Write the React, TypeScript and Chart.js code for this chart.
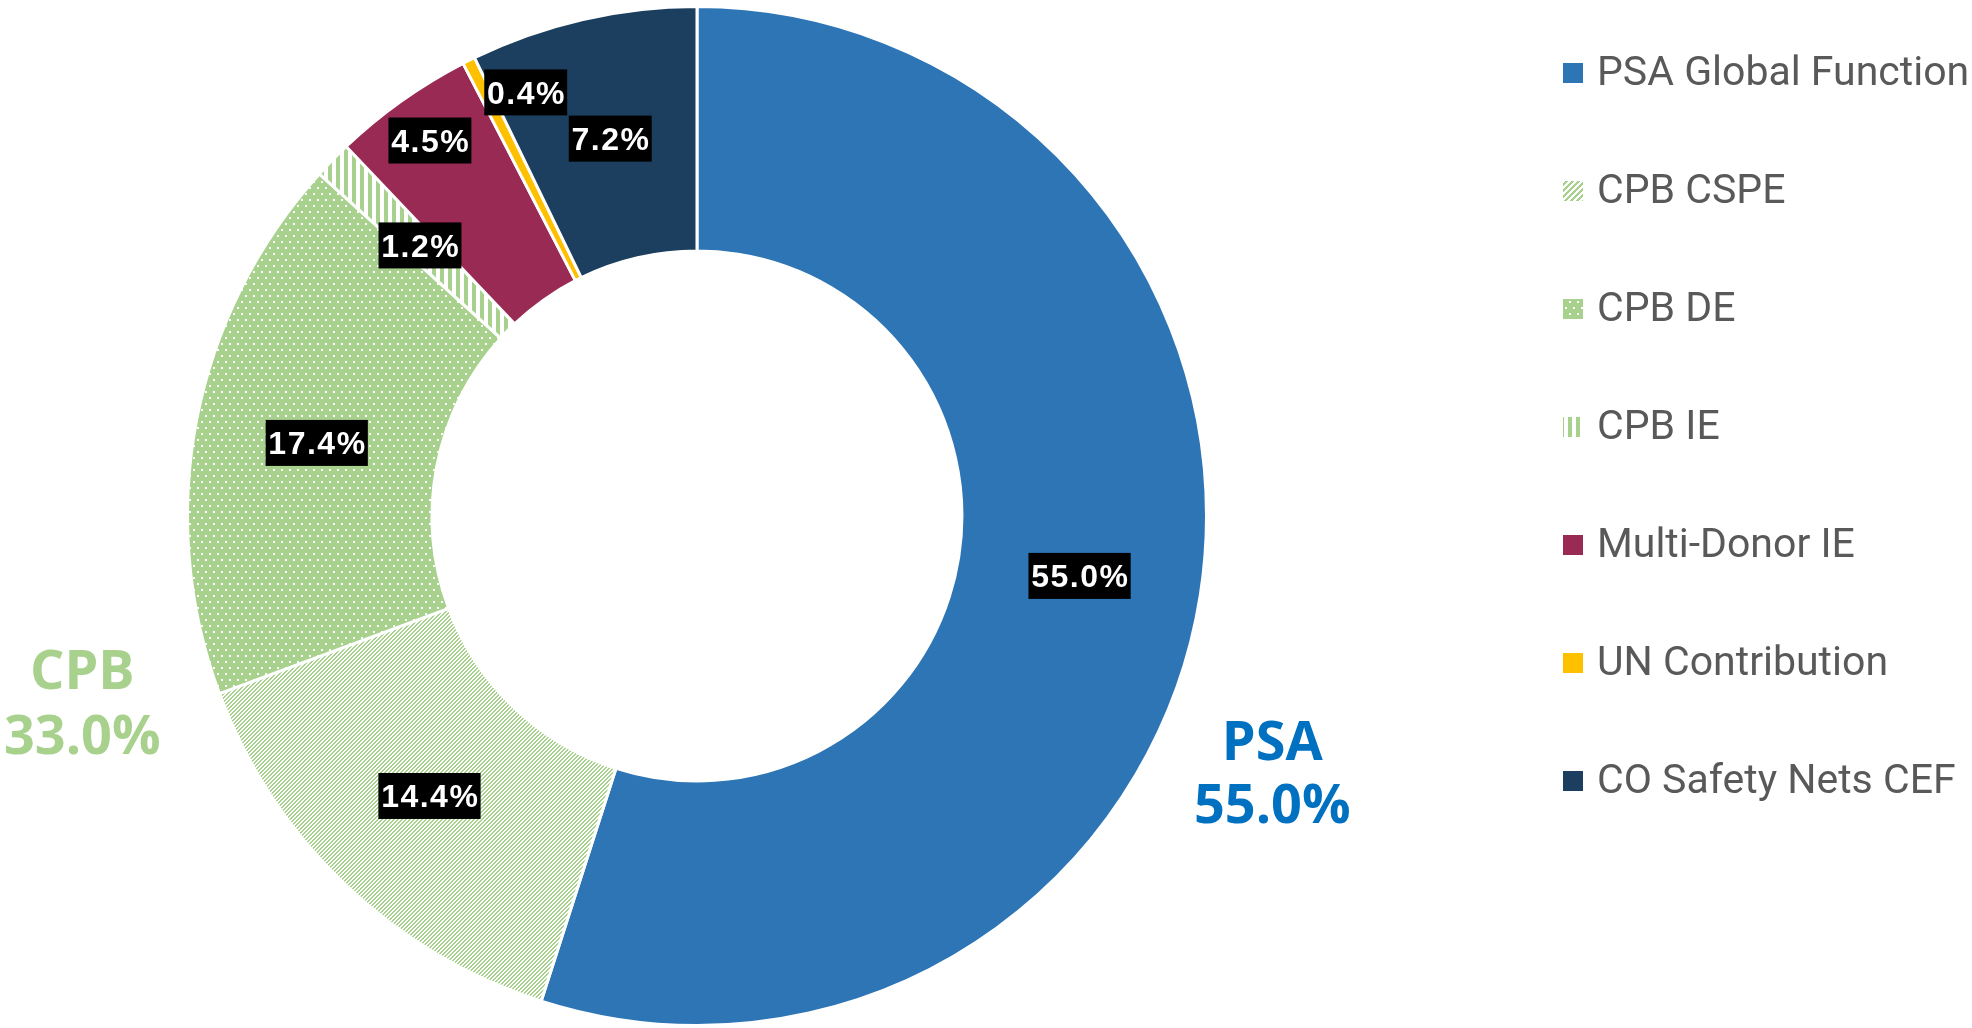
import React, { useEffect, useRef } from "react";
import { Chart, registerables } from "chart.js";

Chart.register(...registerables);

// ---- data ----
const categories = [
  "PSA Global Function",
  "CPB CSPE",
  "CPB DE",
  "CPB IE",
  "Multi-Donor IE",
  "UN Contribution",
  "CO Safety Nets CEF",
];
const shares = [55.0, 14.4, 17.4, 1.2, 4.5, 0.4, 7.2];
const valueLabels = ["55.0%", "14.4%", "17.4%", "1.2%", "4.5%", "0.4%", "7.2%"];
const groupNames = ["PSA", "CPB"];
const groupShares = ["55.0%", "33.0%"];

// ---- styles ----
const GREEN = "#A9D18E";
const solidColors: Record<number, string> = {
  0: "#2E75B6",
  4: "#982A53",
  5: "#FFC000",
  6: "#1D3F5F",
};
// label nudges (angle offset in degrees, radius factor of mid-ring)
const LABEL_NUDGE = [
  { da: 0, rf: 1 },
  { da: 0, rf: 1 },
  { da: 0, rf: 1 },
  { da: 0, rf: 1 },
  { da: 0, rf: 1.19 },
  { da: 4.6, rf: 1.18 },
  { da: 0, rf: 1 },
];

function tile(w: number, h: number, draw: (g: CanvasRenderingContext2D) => void) {
  const c = document.createElement("canvas");
  c.width = w;
  c.height = h;
  const g = c.getContext("2d")!;
  draw(g);
  return c;
}

function makePatterns(ctx: CanvasRenderingContext2D, period: number) {
  const diag = tile(period, period, (g) => {
    g.fillStyle = "#fff";
    g.fillRect(0, 0, period, period);
    g.fillStyle = GREEN;
    for (let y = 0; y < period; y++)
      for (let x = 0; x < period; x++)
        if ((x + y) % period < period / 2) g.fillRect(x, y, 1, 1);
  });
  const dots = tile(8, 12, (g) => {
    g.fillStyle = GREEN;
    g.fillRect(0, 0, 8, 12);
    g.fillStyle = "#fff";
    g.fillRect(1, 1, 2, 2);
    g.fillRect(5, 7, 2, 2);
  });
  const vert = tile(8, 8, (g) => {
    g.fillStyle = "#fff";
    g.fillRect(0, 0, 8, 8);
    g.fillStyle = GREEN;
    g.fillRect(0, 0, 4, 8);
  });
  return {
    1: ctx.createPattern(diag, "repeat")!,
    2: ctx.createPattern(dots, "repeat")!,
    3: ctx.createPattern(vert, "repeat")!,
  } as Record<number, CanvasPattern>;
}

export default function App() {
  const ref = useRef<HTMLCanvasElement>(null);

  useEffect(() => {
    const canvas = ref.current!;
    const ctx = canvas.getContext("2d")!;
    const slicePatterns = makePatterns(ctx, 4);
    const legendPatterns = makePatterns(ctx, 6);
    const fills = shares.map((_, i) => solidColors[i] ?? slicePatterns[i]);
    const legendFills = shares.map((_, i) => solidColors[i] ?? legendPatterns[i]);

    const labelPlugin = {
      id: "boxLabels",
      afterDatasetsDraw(chart: any) {
        const meta = chart.getDatasetMeta(0);
        const c: CanvasRenderingContext2D = chart.ctx;
        c.save();
        c.font = 'bold 32px "Liberation Sans", Arial, sans-serif';
        (c as any).letterSpacing = "1.5px";
        c.textAlign = "left";
        c.textBaseline = "alphabetic";
        meta.data.forEach((arc: any, i: number) => {
          const p = arc.getProps(
            ["x", "y", "startAngle", "endAngle", "innerRadius", "outerRadius"],
            true
          );
          const n = LABEL_NUDGE[i];
          const mid = (p.startAngle + p.endAngle) / 2 + (n.da * Math.PI) / 180;
          const r = ((p.innerRadius + p.outerRadius) / 2) * n.rf;
          const px = p.x + Math.cos(mid) * r;
          const py = p.y + Math.sin(mid) * r;
          const text = valueLabels[i];
          const w = c.measureText(text).width;
          const bw = w + 4;
          const bh = 46;
          c.fillStyle = "#000";
          c.fillRect(px - bw / 2, py - bh / 2, bw, bh);
          c.fillStyle = "#fff";
          c.fillText(text, px - w / 2 + 0.75, py + 11.5);
        });
        c.restore();
      },
      afterDraw(chart: any) {
        const c: CanvasRenderingContext2D = chart.ctx;
        const meta = chart.getDatasetMeta(0);
        const arc = meta.data[0];
        const cx = arc.x;
        const cy = arc.y;
        const R = arc.outerRadius;
        c.save();
        // group labels
        c.font = 'bold 54px "Open Sans", sans-serif';
        c.textAlign = "center";
        c.textBaseline = "alphabetic";
        c.fillStyle = "#0070C0";
        c.fillText(groupNames[0], cx + R * 1.129, cy + R * 0.479);
        c.fillText(groupShares[0], cx + R * 1.129, cy + R * 0.603);
        c.fillStyle = GREEN;
        c.fillText(groupNames[1], cx - R * 1.2065, cy + R * 0.3405);
        c.fillText(groupShares[1], cx - R * 1.2065, cy + R * 0.468);
        // legend
        c.font = '41px Roboto, "Open Sans", sans-serif';
        c.textAlign = "left";
        categories.forEach((name, i) => {
          const yc = 73 + i * 118;
          c.fillStyle = legendFills[i] as any;
          c.fillRect(1563, yc - 10, 20, 20);
          c.fillStyle = "#595959";
          c.fillText(name, 1597, yc + 12);
        });
        c.restore();
      },
    };

    const chart = new Chart(canvas, {
      type: "doughnut",
      data: {
        labels: categories,
        datasets: [
          {
            data: shares,
            backgroundColor: fills as any,
            borderColor: "#ffffff",
            borderWidth: 3,
          },
        ],
      },
      options: {
        responsive: false,
        maintainAspectRatio: false,
        animation: false,
        cutout: "52%",
        layout: { padding: { left: 186, right: 764, top: 4, bottom: 0 } },
        plugins: {
          legend: { display: false },
          tooltip: { enabled: false },
        },
      },
      plugins: [labelPlugin],
    });
    return () => chart.destroy();
  }, []);

  return (
    <div style={{ position: "fixed", left: 0, top: 0, width: 1972, height: 1028, background: "#fff" }}>
      <canvas ref={ref} width={1972} height={1028} style={{ width: 1972, height: 1028, display: "block" }} />
    </div>
  );
}
